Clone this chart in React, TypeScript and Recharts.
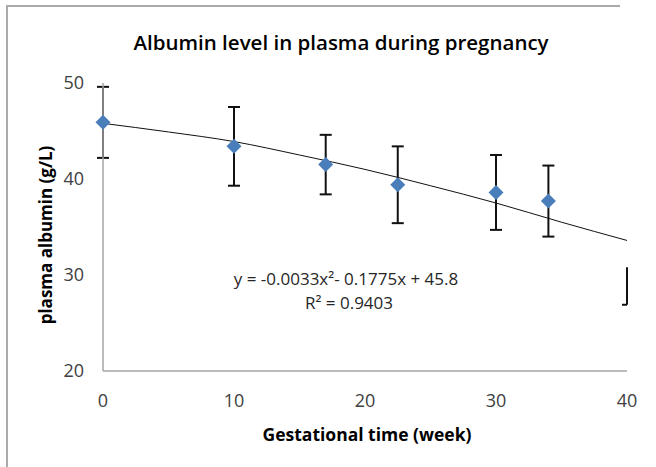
import { ComposedChart, Scatter, Line, XAxis, YAxis, ErrorBar } from "recharts";

// mean plasma albumin (g/L) with SD, by gestational week
const weeks = [0, 10, 17, 22.5, 30, 34];
const albumin = [45.9, 43.4, 41.5, 39.4, 38.6, 37.7];
const sd = [3.7, 4.1, 3.1, 4.0, 3.9, 3.7];

// polynomial trendline as drawn in the figure
const trendWeeks = [0, 5, 10, 15, 20, 25, 30, 35, 40];
const trendAlbumin = [45.8, 44.9, 43.9, 42.5, 41.0, 39.3, 37.5, 35.5, 33.6];

// lone error-bar fragment at the right edge
const strayWeek = 40;
const strayBar = [30.8, 26.9];

const xTicks = [0, 10, 20, 30, 40];
const yTicks = [20, 30, 40, 50];

const points = weeks.map((w, i) => ({ x: w, y: albumin[i], sd: sd[i] }));
const trend = trendWeeks.map((w, i) => ({ x: w, y: trendAlbumin[i] }));
const stray = strayBar.map((v) => ({ x: strayWeek, y: v }));

const FONT = "'Open Sans', 'Noto Sans', sans-serif";

const Diamond = (props: any) => {
  const { cx, cy } = props;
  const r = 7.5;
  return (
    <polygon
      points={`${cx},${cy - r} ${cx + r},${cy} ${cx},${cy + r} ${cx - r},${cy}`}
      fill="#4a7ebb"
    />
  );
};

const StrayEnd = (props: any) => {
  const { cx, cy, payload } = props;
  if (payload.y !== Math.min(...strayBar)) return <g />;
  return <line x1={cx - 5} x2={cx} y1={cy} y2={cy} stroke="#111" strokeWidth={2} />;
};

const tickStyle = { fill: "#404040", fontSize: 18, fontFamily: FONT };

export default function App() {
  return (
    <div
      style={{
        position: "absolute",
        left: 0,
        top: 0,
        width: 656,
        height: 467,
        background: "#fff",
        fontFamily: FONT,
        overflow: "hidden",
      }}
    >
      <div
        style={{
          position: "absolute",
          left: 6,
          top: 5,
          width: 612,
          height: 470,
          borderTop: "2px solid #aaa",
          borderLeft: "2px solid #aaa",
        }}
      />
      <ComposedChart
        width={656}
        height={467}
        margin={{ top: 83, right: 29, bottom: 30, left: 43 }}
      >
        <XAxis
          type="number"
          dataKey="x"
          domain={[0, 40]}
          ticks={xTicks}
          height={66}
          tickLine={false}
          tickSize={6}
          tickMargin={17}
          axisLine={{ stroke: "#a6a6a6", strokeWidth: 1.5 }}
          tick={tickStyle}
        />
        <YAxis
          type="number"
          dataKey="y"
          domain={[20, 50]}
          ticks={yTicks}
          width={60}
          tickLine={false}
          tickSize={6}
          tickMargin={13}
          axisLine={{ stroke: "#a6a6a6", strokeWidth: 1.5 }}
          tick={tickStyle}
        />
        <Scatter data={points} shape={<Diamond />} isAnimationActive={false}>
          <ErrorBar
            dataKey="sd"
            direction="y"
            width={6}
            stroke="#111"
            strokeWidth={2}
            isAnimationActive={false}
          />
        </Scatter>
        <Scatter
          data={stray}
          line={{ stroke: "#111", strokeWidth: 2 }}
          shape={<StrayEnd />}
          isAnimationActive={false}
        />
        <Line
          data={trend}
          dataKey="y"
          type="monotone"
          stroke="#111"
          strokeWidth={1}
          dot={false}
          isAnimationActive={false}
        />
      </ComposedChart>
      <div
        style={{
          position: "absolute",
          left: 0,
          width: 682,
          top: 31,
          lineHeight: "22px",
          fontSize: 20.5,
          fontWeight: 600,
          textAlign: "center",
          color: "#000",
        }}
      >
        Albumin level in plasma during pregnancy
      </div>
      <div
        style={{
          position: "absolute",
          left: 217,
          width: 300,
          top: 423,
          lineHeight: "22px",
          fontSize: 17.5,
          fontWeight: 700,
          textAlign: "center",
          color: "#000",
        }}
      >
        Gestational time (week)
      </div>
      <div
        style={{
          position: "absolute",
          left: 46 - 120,
          width: 240,
          top: 224,
          lineHeight: "22px",
          fontSize: 17,
          fontWeight: 700,
          textAlign: "center",
          color: "#000",
          transform: "rotate(-90deg)",
        }}
      >
        plasma albumin (g/L)
      </div>
      <div
        style={{
          position: "absolute",
          left: 196,
          width: 300,
          top: 267,
          lineHeight: "24px",
          fontSize: 17,
          textAlign: "center",
          color: "#262626",
        }}
      >
        <div>y = -0.0033x²- 0.1775x + 45.8</div>
        <div style={{ paddingLeft: 6 }}>R² = 0.9403</div>
      </div>
    </div>
  );
}
